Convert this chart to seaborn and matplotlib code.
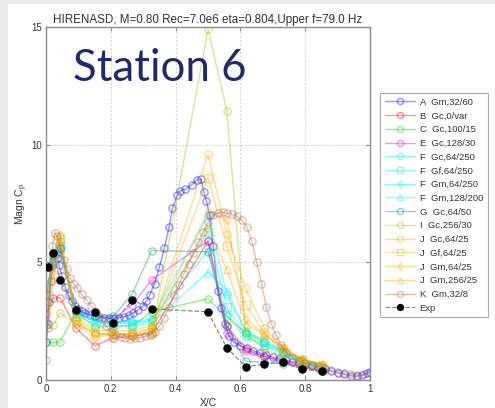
import matplotlib
matplotlib.use("Agg")
import matplotlib.pyplot as plt
import matplotlib.patches as mpatches
import seaborn as sns
import pandas as pd

sns.set_theme(style="white")
plt.rcParams["font.family"] = ["Liberation Sans", "DejaVu Sans"]

# Chordwise stations shared by most CFD runs and the wind tunnel data
station_x = [0.0, 0.023, 0.043, 0.093, 0.151, 0.208, 0.266, 0.326,
             0.5, 0.558, 0.616, 0.674, 0.733, 0.791, 0.851]

b_gc_0 = [2.8, 3.5, 3.5, 2.2, 1.45, 1.8, 1.85, 2.0, 5.9, 2.3, 1.3, 1.0, 0.75, 0.55, 0.4]
c_gc_100 = [1.6, 1.6, 1.6, 2.9, 2.25, 2.3, 2.3, 2.9, 3.45, 2.7, 2.0, 1.6, 1.2, 0.85, 0.6]
e_gc_128 = [2.5, 5.0, 5.6, 2.9, 2.7, 2.6, 3.2, 4.25, 5.9, 2.0, 1.25, 1.0, 0.8, 0.6, 0.45]
f_gc_64 = [3.6, 5.3, 5.9, 2.9, 2.6, 2.5, 2.5, 2.6, 7.0, 3.6, 2.1, 1.6, 1.2, 0.8, 0.55]
f_gf_64 = [3.3, 5.1, 5.7, 2.8, 2.5, 2.4, 2.4, 2.5, 6.3, 3.1, 1.9, 1.5, 1.15, 0.75, 0.5]
f_gm_64 = [3.5, 5.2, 5.8, 2.85, 2.55, 2.45, 2.45, 2.55, 5.5, 2.8, 1.8, 1.45, 1.1, 0.75, 0.5]
f_gm_128 = [3.4, 5.0, 5.6, 2.7, 2.4, 2.3, 2.3, 2.4, 4.6, 3.8, 2.1, 1.7, 1.25, 0.8, 0.5]
g_gc_64 = [3.6, 5.3, 5.6, 3.0, 2.7, 2.7, 3.65, 5.5, 5.45, 2.3, 0.8, 0.75, 0.7, 0.5, 0.4]
i_gc_256 = [2.25, 2.35, 2.85, 2.4, 2.0, 1.9, 2.0, 1.9, 14.9, 11.45, 2.0, 1.3, 1.0, 0.7, 0.5]
j_gc_64 = [3.0, 4.5, 6.1, 2.6, 2.0, 1.9, 2.0, 2.2, 9.6, 6.2, 3.9, 2.2, 1.35, 0.9, 0.65]
j_gf_64 = [3.2, 5.0, 6.0, 2.5, 1.9, 2.0, 1.9, 2.2, 8.6, 5.7, 3.2, 2.0, 1.3, 0.85, 0.65]
j_gm_64 = [2.9, 4.2, 5.9, 2.4, 1.8, 1.95, 1.85, 2.1, 7.2, 6.8, 2.6, 1.9, 1.4, 0.9, 0.7]
j_gm_256 = [3.4, 5.4, 6.2, 2.7, 2.1, 2.1, 2.1, 2.3, 6.5, 4.7, 2.4, 1.9, 1.3, 0.85, 0.6]

# Finely resolved runs
a_x = [0, 0.005, 0.01, 0.015, 0.02, 0.025, 0.03, 0.035, 0.04, 0.05, 0.06, 0.07,
       0.08, 0.09, 0.1, 0.11, 0.12, 0.135, 0.15, 0.165, 0.18, 0.195, 0.21, 0.225,
       0.24, 0.255, 0.27, 0.285, 0.3, 0.31, 0.32, 0.335, 0.35, 0.365, 0.38, 0.39,
       0.405, 0.415, 0.43, 0.45, 0.465, 0.478, 0.487, 0.495, 0.505, 0.516, 0.53,
       0.54, 0.553, 0.565, 0.58, 0.6, 0.62, 0.64, 0.66, 0.68, 0.7, 0.72, 0.74,
       0.76, 0.78, 0.8, 0.82, 0.84, 0.86, 0.88, 0.9, 0.92, 0.94, 0.96, 0.975,
       0.99, 1.0]
a_gm_32 = [1.6, 2.4, 3.3, 4.2, 4.9, 5.3, 5.35, 5.2, 4.9, 4.4, 3.95, 3.6,
           3.35, 3.15, 3.0, 2.92, 2.85, 2.78, 2.72, 2.68, 2.64, 2.62, 2.62, 2.64,
           2.68, 2.75, 2.85, 2.98, 3.15, 3.35, 3.6, 4.1, 4.8, 5.6, 6.5, 7.3,
           7.85, 8.05, 8.1, 8.3, 8.5, 8.55, 8.0, 7.6, 7.0, 5.7, 3.8,
           3.05, 2.4, 1.85, 1.6, 1.45, 1.35, 1.25, 1.15, 1.05, 0.97, 0.9, 0.83,
           0.77, 0.72, 0.66, 0.6, 0.52, 0.45, 0.38, 0.3, 0.24, 0.18, 0.16, 0.2,
           0.28, 0.35]

k_x = [0, 0.005, 0.01, 0.015, 0.02, 0.028, 0.035, 0.045, 0.055, 0.065, 0.075,
       0.085, 0.095, 0.11, 0.125, 0.14, 0.155, 0.17, 0.185, 0.2, 0.215, 0.23,
       0.245, 0.26, 0.275, 0.29, 0.305, 0.32, 0.335, 0.35, 0.365, 0.38, 0.395,
       0.41, 0.425, 0.44, 0.455, 0.47, 0.485, 0.5, 0.515, 0.53, 0.545, 0.56,
       0.575, 0.59, 0.605, 0.62, 0.635, 0.65, 0.665, 0.68, 0.695, 0.71, 0.725,
       0.74, 0.76, 0.78, 0.8, 0.82, 0.84, 0.86, 0.88, 0.9, 0.92, 0.94, 0.96,
       0.98, 1.0]
k_gm_32 = [0.85, 2.2, 3.6, 4.8, 5.7, 6.25, 6.1, 5.6, 5.1, 4.7, 4.35,
           4.1, 3.9, 3.65, 3.4, 3.15, 2.9, 2.6, 2.3, 2.05, 1.9, 1.82,
           1.78, 1.76, 1.78, 1.8, 1.85, 1.9, 2.05, 2.3, 2.65, 3.1, 3.6,
           4.05, 4.5, 4.95, 5.4, 5.85, 6.3, 6.7, 7.0, 7.1, 7.12, 7.1,
           7.05, 6.95, 6.8, 6.5, 5.9, 5.0, 4.1, 3.1, 2.4, 1.9, 1.5,
           1.2, 0.95, 0.8, 0.72, 0.65, 0.58, 0.5, 0.42, 0.36, 0.3, 0.25, 0.22,
           0.25, 0.3]

# Wind tunnel measurements
exp_x = [0.005, 0.023, 0.043, 0.093, 0.151, 0.208, 0.266, 0.326,
         0.499, 0.558, 0.616, 0.674, 0.733, 0.791, 0.851]
exp_cp = [4.82, 5.41, 4.25, 2.97, 2.88, 2.41, 3.40, 3.02,
          2.90, 1.37, 0.57, 0.67, 0.75, 0.45, 0.38]

legend_labels = ["A  Gm,32/60", "B  Gc,0/var", "C  Gc,100/15", "E  Gc,128/30",
                 "F  Gc,64/250", "F  Gf,64/250", "F  Gm,64/250", "F  Gm,128/200",
                 "G  Gc,64/50", "I  Gc,256/30", "J  Gc,64/25", "J  Gf,64/25",
                 "J  Gm,64/25", "J  Gm,256/25", "K  Gm,32/8", "Exp"]

blue = (0.0, 0.0, 1.0)
red = (1.0, 0.0, 0.0)
green = (0.0, 0.85, 0.0)
magenta = (0.85, 0.0, 0.95)
cyan = (0.0, 0.95, 0.95)
teal = (0.0, 0.6, 0.5)
olive = (0.6, 0.78, 0.0)
orange = (1.0, 0.68, 0.0)
tan = (0.72, 0.42, 0.3)

series = [
    (a_x, a_gm_32, blue, "o"),
    (station_x, b_gc_0, red, "o"),
    (station_x, c_gc_100, green, "o"),
    (station_x, e_gc_128, magenta, "o"),
    (station_x, f_gc_64, cyan, "o"),
    (station_x, f_gf_64, cyan, "s"),
    (station_x, f_gm_64, cyan, "d"),
    (station_x, f_gm_128, cyan, "^"),
    (station_x, g_gc_64, teal, "o"),
    (station_x, i_gc_256, olive, "o"),
    (station_x, j_gc_64, orange, "o"),
    (station_x, j_gf_64, orange, "s"),
    (station_x, j_gm_64, orange, "d"),
    (station_x, j_gm_256, orange, "^"),
    (k_x, k_gm_32, tan, "o"),
]

fig = plt.figure(figsize=(4.95, 4.08), dpi=100, facecolor="#e9e9ec")
fig.patches.append(mpatches.Rectangle((8 / 495, 0), 1, 1 - 4 / 408,
                                      transform=fig.transFigure,
                                      facecolor="white", edgecolor="none",
                                      zorder=-10))
ax = fig.add_axes([46 / 495, 1 - 380 / 408, 324 / 495, 353 / 408])
ax.set_facecolor("white")

handles = []
for (xs, ys, col, mk), lab in zip(series, legend_labels[:-1]):
    df = pd.DataFrame({"x": xs, "y": ys})
    sns.lineplot(data=df, x="x", y="y", ax=ax, sort=False, estimator=None,
                 color=col, alpha=0.42, linewidth=1.0, marker=mk,
                 markersize=5.2 if mk != "d" else 4.3, markerfacecolor="none",
                 markeredgecolor=col, markeredgewidth=1.0, label=lab,
                 legend=False)
    handles.append(ax.lines[-1])

exp_df = pd.DataFrame({"x": exp_x, "y": exp_cp})
sns.lineplot(data=exp_df, x="x", y="y", ax=ax, sort=False, estimator=None,
             color="#8a8a8a", linestyle="--", linewidth=0.9, marker="o",
             markersize=5.3, markerfacecolor="black", markeredgecolor="black",
             label="Exp", legend=False, zorder=5)
handles.append(ax.lines[-1])

ax.set_xlim(0, 1)
ax.set_ylim(0, 15)
ax.set_xticks([0, 0.2, 0.4, 0.6, 0.8, 1])
ax.set_xticklabels(["0", "0.2", "0.4", "0.6", "0.8", "1"])
ax.set_yticks([0, 5, 10, 15])
ax.grid(True, color="#cfcfcf", linestyle=(0, (2, 2)), linewidth=0.7)
for sp in ax.spines.values():
    sp.set_color("#8c8c8c")
    sp.set_linewidth(1.0)
ax.tick_params(direction="in", length=3, width=0.8, color="#8c8c8c",
               labelsize=7, labelcolor="#333333", top=True, right=True,
               bottom=True, left=True, pad=3)
ax.set_xlabel("X/C", fontsize=7.5, color="#333333", labelpad=3)
ax.set_ylabel("Magn C$_\\mathregular{p}$", fontsize=7.5, color="#333333",
              labelpad=1)
ax.set_title("HIRENASD, M=0.80 Rec=7.0e6 eta=0.804,Upper f=79.0 Hz",
             fontsize=8.4, color="#333333", pad=3)

ax.text(0.083, 0.94, "Station 6", transform=ax.transAxes, fontsize=31.5,
        family="Lato", color="#1f2a6b", va="top", ha="left", zorder=10)

leg = fig.legend(handles=handles, labels=legend_labels, loc="upper left",
                 bbox_to_anchor=(380 / 495, 1 - 93 / 408), fontsize=6.8,
                 frameon=True, fancybox=False, edgecolor="#9a9a9a",
                 handlelength=3.2, handletextpad=0.5, labelspacing=0.5,
                 borderpad=0.5, borderaxespad=0, markerscale=0.85)
for t in leg.get_texts():
    t.set_color("#333333")
leg.get_frame().set_linewidth(0.8)

fig.savefig("out.png", dpi=100, facecolor=fig.get_facecolor())
